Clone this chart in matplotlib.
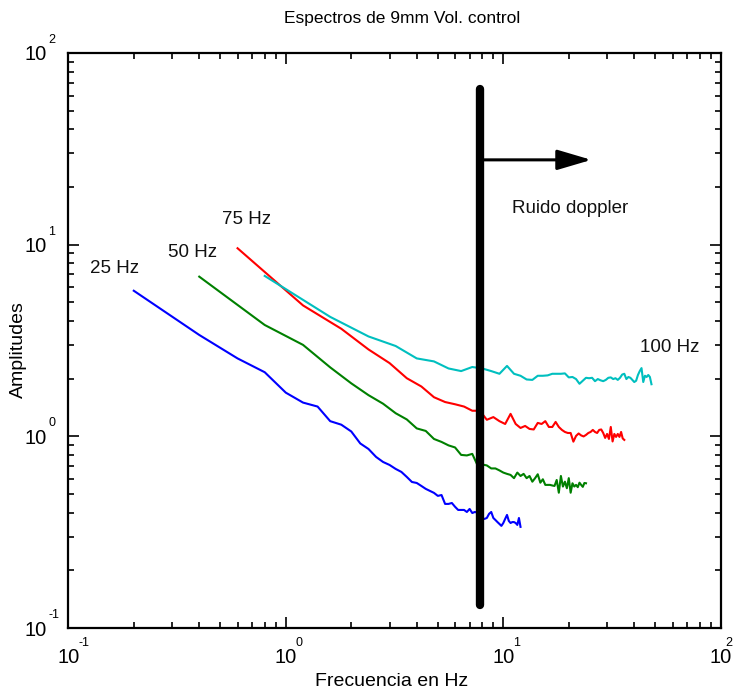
import numpy as np
import matplotlib
matplotlib.use("Agg")
import matplotlib.pyplot as plt
from matplotlib.transforms import blended_transform_factory, ScaledTranslation

plt.rcParams['font.family'] = ['Liberation Sans', 'DejaVu Sans']

# ---------------- data ----------------
# frequency resolution (Hz) of each spectrum
df_25 = 0.2
df_50 = 0.4
df_75 = 0.6
df_100 = 0.8

amp_25 = [5.75, 3.38, 2.55, 2.16, 1.69, 1.50, 1.43, 1.20, 1.15, 1.06,
          0.918, 0.859, 0.781, 0.735, 0.709, 0.676, 0.652, 0.614, 0.578, 0.571,
          0.551, 0.532, 0.519, 0.507, 0.489, 0.494, 0.444, 0.444, 0.449, 0.429,
          0.413, 0.413, 0.413, 0.403, 0.418, 0.398, 0.403, 0.400, 0.389, 0.371,
          0.371, 0.375, 0.394, 0.403, 0.375, 0.366, 0.357, 0.349, 0.341, 0.353,
          0.371, 0.389, 0.362, 0.353, 0.357, 0.357, 0.353, 0.345, 0.375, 0.337]

amp_50 = [6.81, 3.81, 3.00, 2.29, 1.89, 1.64, 1.48, 1.32, 1.225, 1.10,
          1.067, 0.969, 0.935, 0.897, 0.875, 0.800, 0.795, 0.810, 0.709, 0.713,
          0.705, 0.680, 0.680, 0.664, 0.647, 0.637, 0.629, 0.605, 0.647, 0.621,
          0.637, 0.605, 0.621, 0.580, 0.605, 0.634, 0.573, 0.597, 0.558, 0.558,
          0.558, 0.554, 0.551, 0.592, 0.508, 0.621, 0.547, 0.580, 0.536, 0.605,
          0.508, 0.569, 0.547, 0.558, 0.543, 0.573, 0.558, 0.545, 0.571, 0.569]

amp_75 = [9.58, 4.82, 3.64, 2.84, 2.41, 2.01, 1.82, 1.60, 1.51, 1.47,
          1.43, 1.36, 1.36, 1.22, 1.26, 1.20, 1.16, 1.31, 1.16, 1.106,
          1.133, 1.093, 1.086, 1.175, 1.16, 1.20, 1.119, 1.119, 1.189, 1.119,
          1.080, 1.054, 1.041, 1.041, 0.938, 1.005, 1.035, 1.011, 0.999, 1.017,
          1.041, 1.054, 1.080, 1.054, 1.041, 1.080, 1.086, 1.041, 0.981, 1.029,
          0.969, 1.119, 0.940, 1.029, 0.993, 1.029, 0.993, 1.054, 0.975, 0.958]

amp_100 = [6.87, 4.20, 3.32, 2.96, 2.55, 2.46, 2.26, 2.19, 2.30, 2.26,
           2.19, 2.12, 2.33, 2.12, 2.07, 1.98, 1.97, 2.07, 2.07, 2.08,
           2.12, 2.12, 2.12, 2.13, 2.03, 2.04, 1.99, 1.88, 1.95, 2.02,
           2.01, 2.02, 1.94, 1.99, 1.96, 1.94, 1.97, 2.02, 2.03, 1.99,
           2.01, 1.97, 2.02, 2.10, 2.12, 1.99, 2.04, 2.02, 1.97, 1.92,
           1.95, 2.09, 2.19, 2.27, 1.92, 2.07, 2.04, 2.09, 2.04, 1.87]

series_labels = ["25 Hz", "50 Hz", "75 Hz", "100 Hz"]
series_colors = ["#0000ff", "#008000", "#ff0000", "#00bfbf"]

doppler_freq = 7.8
x_exponents = [-1, 0, 1, 2]
y_exponents = [-1, 0, 1, 2]

# ---------------- figure ----------------
fig = plt.figure(figsize=(7.35, 6.93), dpi=100)
ax = fig.add_axes([68.3 / 735, 1 - 628 / 693, (720.8 - 68.3) / 735, (628 - 53) / 693])
ax.set_xscale('log')
ax.set_yscale('log')
ax.set_xlim(0.1, 100)
ax.set_ylim(0.1, 100)

for df, amp, col in zip([df_25, df_50, df_75, df_100],
                        [amp_25, amp_50, amp_75, amp_100], series_colors):
    f = df * np.arange(1, len(amp) + 1)
    ax.plot(f, amp, color=col, lw=1.5, zorder=2)

# vertical doppler line
ax.plot([doppler_freq, doppler_freq], [0.132, 65.0], color='black', lw=6,
        solid_capstyle='round', zorder=3)
# arrow
ax.annotate('', xy=(25.4, 27.7), xytext=(doppler_freq, 27.7),
            arrowprops=dict(arrowstyle='-|>,head_length=2.1,head_width=0.62',
                            mutation_scale=10, lw=2.2, color='black',
                            shrinkA=0, shrinkB=0), zorder=3)

# text labels
lab_kw = dict(fontsize=13.5, color='#111111', va='center', ha='left')
ax.text(0.126, 7.55, "25 Hz", **lab_kw)
ax.text(0.287, 9.06, "50 Hz", **lab_kw)
ax.text(0.509, 13.6, "75 Hz", **lab_kw)
ax.text(42.5, 2.92, "100 Hz", **lab_kw)
ax.text(10.97, 15.5, "Ruido doppler", **lab_kw)

# ticks
for side in ['left', 'right', 'top', 'bottom']:
    ax.spines[side].set_linewidth(1.6)
ax.tick_params(which='both', direction='in', top=True, right=True,
               labelbottom=False, labelleft=False, width=1.2)
ax.tick_params(which='major', length=8)
ax.tick_params(which='minor', length=4)

# custom tick labels "10" with exponent
bx = blended_transform_factory(ax.transData, ax.transAxes)
by = blended_transform_factory(ax.transAxes, ax.transData)
px = 1 / 100.0
for e in x_exponents:
    ax.text(10.0 ** e, -0.052, "10", transform=bx, fontsize=14.5,
            ha='center', va='center', clip_on=False)
    dx = 10 if e < max(x_exponents) else 5
    ax.text(10.0 ** e, -0.052, str(e),
            transform=bx + ScaledTranslation(dx * px, 15 * px, fig.dpi_scale_trans),
            fontsize=9, ha='left', va='center', clip_on=False)
for e in y_exponents:
    ax.text(0, 10.0 ** e, "10",
            transform=by + ScaledTranslation(-22 * px, -2 * px, fig.dpi_scale_trans),
            fontsize=14.5, ha='right', va='center', clip_on=False)
    ax.text(0, 10.0 ** e, str(e),
            transform=by + ScaledTranslation(-20 * px, 13 * px, fig.dpi_scale_trans),
            fontsize=9, ha='left', va='center', clip_on=False)

fig.text(392 / 735, 1 - 682 / 693, "Frecuencia en Hz", fontsize=14,
         ha='center', va='center')
fig.text(18 / 735, 1 - 350 / 693, "Amplitudes", fontsize=14, rotation=90,
         ha='center', va='center')
fig.text(402 / 735, 1 - 19 / 693, "Espectros de 9mm Vol. control", fontsize=12.5,
         ha='center', va='center')

fig.savefig("out.png", dpi=100)
